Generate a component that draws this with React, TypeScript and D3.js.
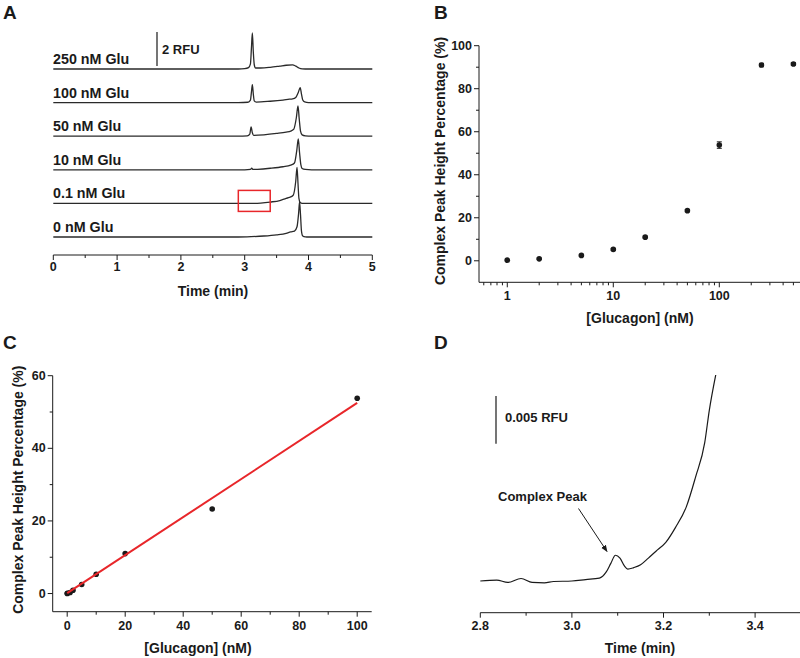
import React from 'react';
import * as d3 from 'd3';

// ---------- Data ----------
const traceLabels = ['250 nM Glu', '100 nM Glu', '50 nM Glu', '10 nM Glu', '0.1 nM Glu', '0 nM Glu'];

// [time (min), signal (RFU above baseline)]
const trace250: [number, number][] = [
  [0, 0], [2.9, 0], [3.0, 0.02], [3.06, 0.08], [3.09, 0.3], [3.105, 1.2], [3.12, 2.12], [3.135, 1.0],
  [3.15, 0.25], [3.17, 0.06], [3.25, 0.06], [3.4, 0.1], [3.55, 0.17], [3.65, 0.22], [3.75, 0.24],
  [3.8, 0.17], [3.85, 0.06], [3.9, 0.01], [4.0, 0], [5, 0],
];
const trace100: [number, number][] = [
  [0, 0], [2.9, 0], [3.05, 0.02], [3.09, 0.15], [3.105, 0.6], [3.12, 1.06], [3.135, 0.5], [3.15, 0.1],
  [3.18, 0.03], [3.4, 0.08], [3.6, 0.15], [3.7, 0.2], [3.75, 0.22], [3.8, 0.3], [3.84, 0.6], [3.87, 0.88],
  [3.89, 0.5], [3.91, 0.15], [3.94, 0.04], [4.0, 0], [5, 0],
];
const trace50: [number, number][] = [
  [0, 0], [2.9, 0], [3.04, 0.02], [3.08, 0.12], [3.1, 0.55], [3.12, 0.2], [3.14, 0.05], [3.3, 0.08],
  [3.5, 0.16], [3.65, 0.24], [3.72, 0.3], [3.77, 0.42], [3.81, 1.1], [3.835, 1.78], [3.855, 1.0],
  [3.875, 0.3], [3.9, 0.08], [3.95, 0.02], [4.05, 0], [5, 0],
];
const trace10: [number, number][] = [
  [0, 0], [3.0, 0], [3.09, 0.02], [3.11, 0.09], [3.13, 0.02], [3.2, 0.03], [3.4, 0.09], [3.6, 0.18],
  [3.72, 0.27], [3.78, 0.4], [3.815, 1.1], [3.84, 1.82], [3.86, 1.0], [3.88, 0.3], [3.9, 0.08],
  [3.95, 0.02], [4.05, 0], [5, 0],
];
const trace01: [number, number][] = [
  [0, 0], [3.1, 0], [3.25, 0.02], [3.4, 0.08], [3.55, 0.17], [3.65, 0.3], [3.7, 0.35], [3.76, 0.48],
  [3.8, 1.3], [3.82, 2.12], [3.835, 1.2], [3.85, 0.3], [3.87, 0.05], [3.9, 0], [5, 0],
];
const trace0: [number, number][] = [
  [0, 0], [2.9, 0], [3.1, 0.02], [3.3, 0.06], [3.5, 0.13], [3.65, 0.22], [3.72, 0.3], [3.78, 0.35],
  [3.82, 0.6], [3.845, 1.4], [3.86, 2.06], [3.875, 1.3], [3.89, 0.35], [3.91, 0.06], [3.95, 0.01],
  [4.0, 0], [5, 0],
];
const tracesA = [trace250, trace100, trace50, trace10, trace01, trace0];
const timeTicksA = [0, 1, 2, 3, 4, 5];
const zoomWindowA = [2.9, 3.4];

const concB = [1, 2, 5, 10, 20, 50, 100, 250, 500];
const pctB = [0.3, 0.9, 2.5, 5.3, 11.0, 23.3, 53.8, 91.0, 91.5];
const errB = [0.2, 0.3, 0.3, 0.4, 0.4, 0.5, 1.5, 0.8, 0.6];
const xTicksB = [1, 10, 100];
const yTicksB = [0, 20, 40, 60, 80, 100];

const concC = [0, 0.1, 1, 2, 5, 10, 20, 50, 100];
const pctC = [0, 0.1, 0.3, 0.9, 2.5, 5.3, 11.0, 23.3, 53.8];
const fitSlope = 0.524;
const fitIntercept = 0.1;
const xTicksC = [0, 20, 40, 60, 80, 100];
const yTicksC = [0, 20, 40, 60];

const timeD = [2.8, 2.836, 2.86, 2.889, 2.913, 2.94, 2.96, 3.0, 3.03, 3.06, 3.075, 3.085, 3.095, 3.105,
  3.115, 3.122, 3.135, 3.15, 3.167, 3.183, 3.205, 3.226, 3.25, 3.27, 3.29, 3.3, 3.314];
const rfuD = [0, 0.0001, -0.00015, 0.00026, -0.00015, -0.0002, -0.00005, 0, 0.00015, 0.0003, 0.00095,
  0.00185, 0.0027, 0.0024, 0.00155, 0.00125, 0.0014, 0.0017, 0.0024, 0.0031, 0.00405, 0.0056, 0.0078,
  0.0109, 0.0145, 0.0179, 0.0216];
const xTicksD = [2.8, 3.0, 3.2, 3.4];

// ---------- Styling ----------
const FONT = '"Liberation Sans", Arial, Helvetica, sans-serif';
const INK = '#1a1a1a';
const RED = '#e8262a';
const TICK_FS = 12.5;
const TITLE_FS = 14;

// ---------- Scales ----------
const xA = d3.scaleLinear().domain([0, 5]).range([53.3, 372.3]);
const baseA0 = 69;
const stepA = 33.6;
const pxPerRFU = 17;
const axisYA = 255;

const xB = d3.scaleLog().domain([0.541, 577]).range([479, 800]);
const yB = d3.scaleLinear().domain([-10, 100]).range([282.3, 45.7]);

const xC = d3.scaleLinear().domain([-5, 105]).range([52.7, 371.7]);
const yC = d3.scaleLinear().domain([-5, 60]).range([611.7, 375.7]);

const xD = d3.scaleLinear().domain([2.8, 3.5]).range([480.3, 800.9]);
const yD = d3.scaleLinear().domain([0, 0.0216]).range([581, 375]);
const axisYD = 612.7;

function HAxis({ scale, y, majors, minors, fmt, x0, x1, labelDy = 14 }: any) {
  return (
    <g>
      <line x1={x0} x2={x1} y1={y} y2={y} stroke={INK} strokeWidth={1} />
      {majors.map((v: number, i: number) => (
        <g key={'M' + i}>
          <line x1={scale(v)} x2={scale(v)} y1={y} y2={y + 5} stroke={INK} strokeWidth={1} />
          <text x={scale(v)} y={y + labelDy} textAnchor="middle" dominantBaseline="central"
            fontFamily={FONT} fontWeight="bold" fontSize={TICK_FS} fill={INK}>{fmt(v)}</text>
        </g>
      ))}
      {minors.map((v: number, i: number) => (
        <line key={'m' + i} x1={scale(v)} x2={scale(v)} y1={y} y2={y + 3} stroke={INK} strokeWidth={1} />
      ))}
    </g>
  );
}

function VAxis({ scale, x, majors, minors, fmt, y0, y1 }: any) {
  return (
    <g>
      <line x1={x} x2={x} y1={y0} y2={y1} stroke={INK} strokeWidth={1} />
      {majors.map((v: number, i: number) => (
        <g key={'M' + i}>
          <line x1={x - 5} x2={x} y1={scale(v)} y2={scale(v)} stroke={INK} strokeWidth={1} />
          <text x={x - 7} y={scale(v)} textAnchor="end" dominantBaseline="central"
            fontFamily={FONT} fontWeight="bold" fontSize={TICK_FS} fill={INK}>{fmt(v)}</text>
        </g>
      ))}
      {minors.map((v: number, i: number) => (
        <line key={'m' + i} x1={x - 3} x2={x} y1={scale(v)} y2={scale(v)} stroke={INK} strokeWidth={1} />
      ))}
    </g>
  );
}

function PanelLetter({ x, y, t }: any) {
  return <text x={x} y={y} fontFamily={FONT} fontWeight="bold" fontSize={19} fill={INK}>{t}</text>;
}

export default function App() {
  // Panel A
  const lineA = (i: number) =>
    d3.line<[number, number]>()
      .x((d) => xA(d[0]))
      .y((d) => baseA0 + i * stepA - d[1] * pxPerRFU)
      .curve(d3.curveMonotoneX);
  const minorsA = d3.range(0.5, 5, 1);
  const box01Base = baseA0 + 4 * stepA;

  // Panel B
  const minorsB: number[] = [];
  [0.1, 1, 10, 100].forEach((dec) => {
    for (let m = 2; m <= 9; m++) {
      const v = dec * m;
      if (v >= 0.541 && v <= 577) minorsB.push(v);
    }
  });

  // Panel C
  const fitLine = d3.line<number>()
    .x((d) => xC(d))
    .y((d) => yC(fitSlope * d + fitIntercept));

  // Panel D
  const lineD = d3.line<number>()
    .x((_, i) => xD(timeD[i]))
    .y((d) => yD(d))
    .curve(d3.curveMonotoneX);

  return (
    <svg width={800} height={658} viewBox="0 0 800 658"
      style={{ position: 'absolute', left: 0, top: 0, display: 'block', background: '#fff' }}>
      <rect x={0} y={0} width={800} height={658} fill="#fff" />

      {/* ---------------- Panel A ---------------- */}
      <PanelLetter x={3} y={19} t="A" />
      {tracesA.map((tr, i) => (
        <g key={i}>
          <path d={lineA(i)(tr) as string} fill="none" stroke="#2a2a2a" strokeWidth={1.3} />
          <text x={53} y={baseA0 + i * stepA - 5} fontFamily={FONT} fontWeight="bold" fontSize={14.3} fill={INK}>
            {traceLabels[i]}
          </text>
        </g>
      ))}
      {/* 2 RFU scale bar */}
      <line x1={157} x2={157} y1={baseA0 - 3 - 2 * pxPerRFU} y2={baseA0 - 3} stroke={INK} strokeWidth={1.2} />
      <text x={162} y={49} dominantBaseline="central" fontFamily={FONT} fontWeight="bold" fontSize={13} fill={INK}>2 RFU</text>
      {/* zoom window */}
      <rect x={xA(zoomWindowA[0])} y={box01Base - 13} width={xA(zoomWindowA[1]) - xA(zoomWindowA[0])} height={21}
        fill="none" stroke={RED} strokeWidth={1.5} />
      <HAxis scale={xA} y={axisYA} majors={timeTicksA} minors={minorsA} fmt={(v: number) => String(v)}
        x0={xA(0)} x1={xA(5)} labelDy={12} />
      <text x={213} y={291} textAnchor="middle" dominantBaseline="central" fontFamily={FONT} fontWeight="bold" fontSize={TITLE_FS} fill={INK}>Time (min)</text>

      {/* ---------------- Panel B ---------------- */}
      <PanelLetter x={434} y={19} t="B" />
      <VAxis scale={yB} x={479} majors={yTicksB} minors={[10, 30, 50, 70, 90]} fmt={(v: number) => String(v)}
        y0={yB(100)} y1={yB(-10)} />
      <HAxis scale={xB} y={yB(-10)} majors={xTicksB} minors={minorsB} fmt={(v: number) => String(v)}
        x0={479} x1={800} />
      {concB.map((c, i) => (
        <g key={i}>
          <line x1={xB(c)} x2={xB(c)} y1={yB(pctB[i] - errB[i])} y2={yB(pctB[i] + errB[i])} stroke={INK} strokeWidth={1} />
          <line x1={xB(c) - 2.5} x2={xB(c) + 2.5} y1={yB(pctB[i] - errB[i])} y2={yB(pctB[i] - errB[i])} stroke={INK} strokeWidth={1} />
          <line x1={xB(c) - 2.5} x2={xB(c) + 2.5} y1={yB(pctB[i] + errB[i])} y2={yB(pctB[i] + errB[i])} stroke={INK} strokeWidth={1} />
          <circle cx={xB(c)} cy={yB(pctB[i])} r={2.8} fill={INK} />
        </g>
      ))}
      <text x={640} y={318} textAnchor="middle" dominantBaseline="central" fontFamily={FONT} fontWeight="bold" fontSize={TITLE_FS} fill={INK}>[Glucagon] (nM)</text>
      <text transform={`translate(440,${(yB(100) + yB(-10)) / 2 - 3}) rotate(-90)`} textAnchor="middle" dominantBaseline="central"
        fontFamily={FONT} fontWeight="bold" fontSize={TITLE_FS} fill={INK}>Complex Peak Height Percentage (%)</text>

      {/* ---------------- Panel C ---------------- */}
      <PanelLetter x={3} y={349} t="C" />
      <VAxis scale={yC} x={52.7} majors={yTicksC} minors={[10, 30, 50]} fmt={(v: number) => String(v)}
        y0={yC(60)} y1={yC(-5)} />
      <HAxis scale={xC} y={yC(-5)} majors={xTicksC} minors={[10, 30, 50, 70, 90]} fmt={(v: number) => String(v)}
        x0={52.7} x1={371.7} />
      {concC.map((c, i) => (
        <circle key={i} cx={xC(c)} cy={yC(pctC[i])} r={2.8} fill={INK} />
      ))}
      <path d={fitLine([0, 100]) as string} fill="none" stroke={RED} strokeWidth={2} />
      <text x={198} y={648} textAnchor="middle" dominantBaseline="central" fontFamily={FONT} fontWeight="bold" fontSize={TITLE_FS} fill={INK}>[Glucagon] (nM)</text>
      <text transform={`translate(18,${(yC(60) + yC(-5)) / 2 - 4}) rotate(-90)`} textAnchor="middle" dominantBaseline="central"
        fontFamily={FONT} fontWeight="bold" fontSize={TITLE_FS} fill={INK}>Complex Peak Height Percentage (%)</text>

      {/* ---------------- Panel D ---------------- */}
      <PanelLetter x={434} y={349} t="D" />
      <path d={lineD(rfuD) as string} fill="none" stroke={INK} strokeWidth={1.2} />
      <line x1={496} x2={496} y1={yD(0.0194)} y2={yD(0.0144)} stroke={INK} strokeWidth={1.2} />
      <text x={505} y={(yD(0.0194) + yD(0.0144)) / 2 - 2} dominantBaseline="central" fontFamily={FONT} fontWeight="bold" fontSize={13} fill={INK}>0.005 RFU</text>
      <text x={498} y={496} dominantBaseline="central" fontFamily={FONT} fontWeight="bold" fontSize={13} fill={INK}>Complex Peak</text>
      <defs>
        <marker id="arrowD" viewBox="0 0 10 10" refX={9} refY={5} markerWidth={7} markerHeight={7} orient="auto">
          <path d="M0,1 L10,5 L0,9 z" fill={INK} />
        </marker>
      </defs>
      <line x1={578.5} y1={508.5} x2={607} y2={551.5} stroke={INK} strokeWidth={1} markerEnd="url(#arrowD)" />
      <HAxis scale={xD} y={axisYD} majors={xTicksD} minors={[2.9, 3.1, 3.3, 3.5]} fmt={(v: number) => v.toFixed(1)}
        x0={480.3} x1={800} labelDy={13} />
      <text x={640} y={648} textAnchor="middle" dominantBaseline="central" fontFamily={FONT} fontWeight="bold" fontSize={TITLE_FS} fill={INK}>Time (min)</text>
    </svg>
  );
}
